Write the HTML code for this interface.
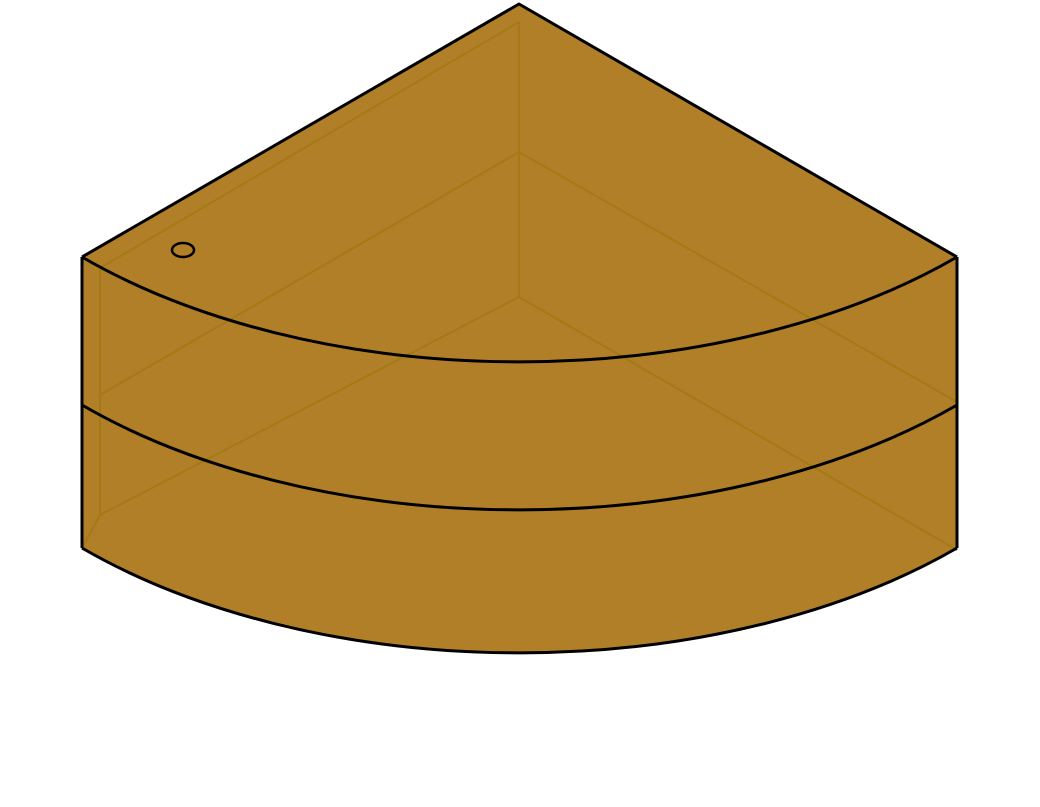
<!DOCTYPE html>
<html><head><meta charset="utf-8"><style>
html,body{margin:0;padding:0;background:#fff;width:1040px;height:807px;overflow:hidden}
svg{display:block}
</style></head><body>
<svg width="1040" height="807" viewBox="0 0 1040 807">
  <path d="M519 4 L82 257 L82 548 A618 357 0 0 0 957 548 L957 257 Z" fill="#b07f28"/>
  <g stroke="#a47a14" stroke-width="2" fill="none">
    <path d="M519 22 L100 268 L100 515"/>
    <path d="M519 22 L519 297"/>
    <path d="M519 152 L100 395"/>
    <path d="M519 152 L957 402"/>
    <path d="M519 297 L100 515"/>
    <path d="M519 297 L957 550"/>
    <path d="M100 515 L82 548"/>
  </g>
  <g stroke="#000" stroke-width="3" fill="none" stroke-linejoin="round">
    <path d="M82 257 L519 4 L957 257"/>
    <path d="M82 257 A618 357 0 0 0 957 257"/>
    <path d="M82 405 A618 357 0 0 0 957 405"/>
    <path d="M82 548 A618 357 0 0 0 957 548"/>
    <path d="M82 257 L82 548"/>
    <path d="M957 257 L957 548"/>
  </g>
  <ellipse cx="183" cy="250" rx="11" ry="7" fill="none" stroke="#000" stroke-width="2.5"/>
</svg>
</body></html>
